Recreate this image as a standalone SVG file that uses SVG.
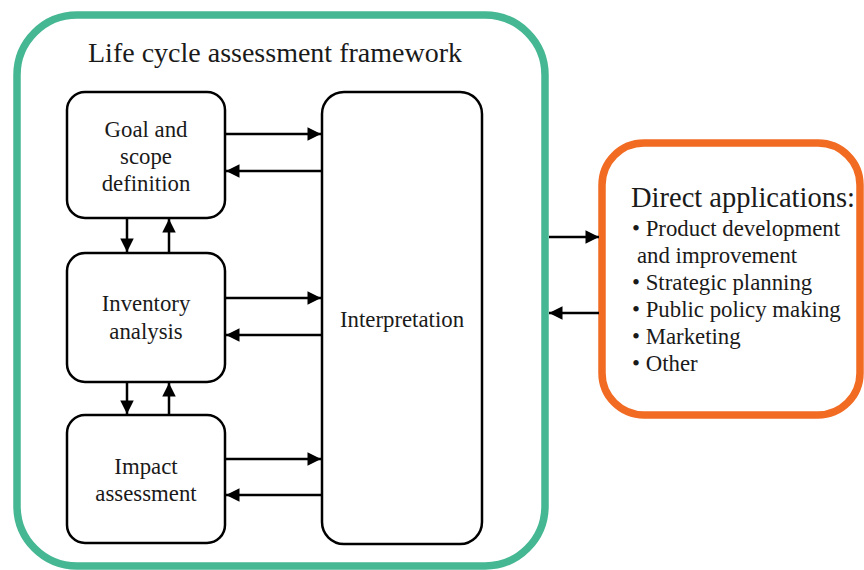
<svg xmlns="http://www.w3.org/2000/svg" width="864" height="570" viewBox="0 0 864 570">
<style>
.box{fill:#fff;stroke:#000;stroke-width:2.5}
.t{font-family:"Liberation Serif","Times New Roman",serif;fill:#1a1a1a;font-size:22.8px}
.big{font-size:28.5px}
.c{text-anchor:middle}
.con{stroke:#000;stroke-width:2.5;fill:none;marker-end:url(#ah)}
</style>
<defs>
<marker id="ah" viewBox="0 0 10 10" refX="10" refY="5" markerWidth="6" markerHeight="5.4" markerUnits="strokeWidth" orient="auto">
<path d="M0,0 L10,5 L0,10 z" fill="#000"/>
</marker>
</defs>
<rect width="864" height="570" fill="#fff"/>
<g id="framework">
<rect x="17" y="15" width="528" height="551" rx="60" fill="#fff" stroke="#45b792" stroke-width="7.5"/>
<text class="t c big" x="275" y="62" style="font-size:28px">Life cycle assessment framework</text>
</g>
<g id="goal">
<rect class="box" x="67" y="92" width="158" height="126" rx="18"/>
<text class="t c" x="146" y="137">Goal and</text>
<text class="t c" x="146" y="164">scope</text>
<text class="t c" x="146" y="191">definition</text>
</g>
<g id="inventory">
<rect class="box" x="67" y="253" width="158" height="129" rx="18"/>
<text class="t c" x="146" y="311">Inventory</text>
<text class="t c" x="146" y="339">analysis</text>
</g>
<g id="impact">
<rect class="box" x="67" y="415" width="158" height="128" rx="18"/>
<text class="t c" x="146" y="474">Impact</text>
<text class="t c" x="146" y="501">assessment</text>
</g>
<g id="interpretation">
<rect class="box" x="322" y="92" width="160" height="452" rx="22"/>
<text class="t c" x="402" y="327">Interpretation</text>
</g>
<g id="applications">
<rect x="602" y="143" width="258" height="272" rx="42" fill="#fff" stroke="#f26b23" stroke-width="7.5"/>
<text class="t big" x="631" y="207">Direct applications:</text>
<text class="t" x="632" y="236">• Product development</text>
<text class="t" x="637" y="263">and improvement</text>
<text class="t" x="632" y="290">• Strategic planning</text>
<text class="t" x="632" y="317">• Public policy making</text>
<text class="t" x="632" y="344">• Marketing</text>
<text class="t" x="632" y="371">• Other</text>
</g>
<g id="connectors">
<line class="con" x1="226" y1="134" x2="321" y2="134"/>
<line class="con" x1="321" y1="171" x2="226" y2="171"/>
<line class="con" x1="226" y1="298" x2="321" y2="298"/>
<line class="con" x1="321" y1="335" x2="226" y2="335"/>
<line class="con" x1="226" y1="459" x2="321" y2="459"/>
<line class="con" x1="321" y1="495" x2="226" y2="495"/>
<line class="con" x1="127" y1="219" x2="127" y2="252"/>
<line class="con" x1="169" y1="252" x2="169" y2="219"/>
<line class="con" x1="127" y1="383" x2="127" y2="414"/>
<line class="con" x1="169" y1="414" x2="169" y2="383"/>
<line class="con" x1="549" y1="237" x2="599" y2="237"/>
<line class="con" x1="599" y1="313" x2="549" y2="313"/>
</g>
</svg>
